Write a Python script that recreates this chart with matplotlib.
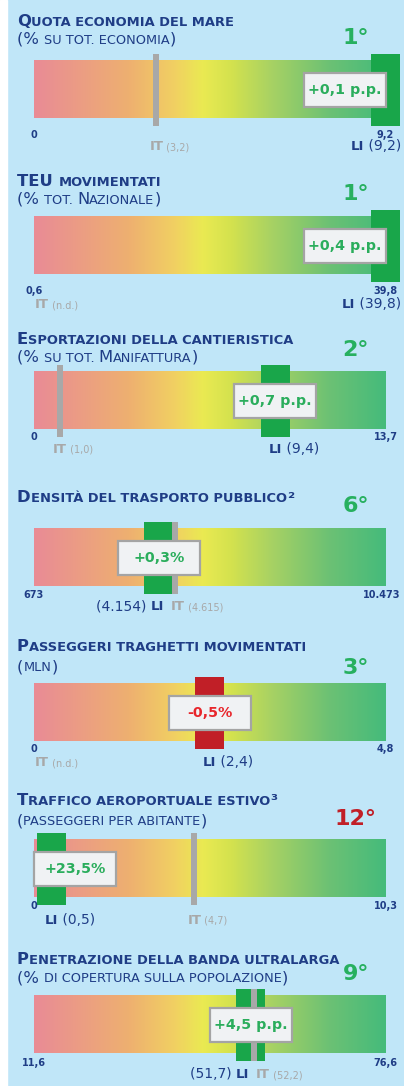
import numpy as np
import matplotlib
matplotlib.use('Agg')
import matplotlib.pyplot as plt
from matplotlib.colors import LinearSegmentedColormap
from matplotlib.patches import Rectangle
from matplotlib.font_manager import FontProperties

plt.rcParams['font.family'] = 'DejaVu Sans'

# ---- data ----
titles = ['Quota economia del mare', 'TEU movimentati', 'Esportazioni della cantieristica',
          'Densità del trasporto pubblico²', 'Passeggeri traghetti movimentati',
          'Traffico aeroportuale estivo³', 'Penetrazione della banda ultralarga']
subtitles = ['(% su tot. economia)', '(% tot. Nazionale)', '(% su tot. Manifattura)', '',
             '(mln)', '(passeggeri per abitante)', '(% di copertura sulla popolazione)']
ranks = ['1°', '1°', '2°', '6°', '3°', '12°', '9°']
rank_bad = [False, False, False, False, False, True, False]
scale_min = [0, 0.6, 0, 673, 0, 0, 11.6]
scale_max = [9.2, 39.8, 13.7, 10473, 4.8, 10.3, 76.6]
min_labels = ['0', '0,6', '0', '673', '0', '0', '11,6']
max_labels = ['9,2', '39,8', '13,7', '10.473', '4,8', '10,3', '76,6']
li_values = [9.2, 39.8, 9.4, 4154, 2.4, 0.5, 51.7]
li_labels = ['9,2', '39,8', '9,4', '4.154', '2,4', '0,5', '51,7']
it_values = [3.2, np.nan, 1.0, 4615, np.nan, 4.7, 52.2]
it_labels = ['3,2', 'n.d.', '1,0', '4.615', 'n.d.', '4,7', '52,2']
changes = ['+0,1 p.p.', '+0,4 p.p.', '+0,7 p.p.', '+0,3%', '-0,5%', '+23,5%', '+4,5 p.p.']

# ---- layout (pixels) ----
W, H = 404, 1086
BAR_L, BAR_R = 34, 385.5
BAR_H = 57.5
bar_top = [61, 217, 372, 529, 684, 840, 996]
title_y = [25.5, 185.5, 343.5, 502.5, 651, 805, 964]
sub_y = [44, 203.5, 362, None, 671, 825, 982.5]
rank_y = [44, 200.5, 356.5, 512.5, 673.5, 825, 980]
scale_y = [137.5, 293.5, 440.5, 597.5, 752.5, 909, 1066]
label_y = [150, 308, 453, 610, 766, 923.5, 1078.5]
li_before_it = [False, False, False, True, False, False, True]

navy = '#1f3d86'
gray = '#a8a8a8'
green_mk = '#19a64a'
red_mk = '#c11f27'
bg = '#c0e6f8'

cmap = LinearSegmentedColormap.from_list('score', [
    (0.0, '#e98b96'), (0.27, '#eeb070'), (0.40, '#f1d062'), (0.48, '#eaea52'),
    (0.56, '#d4e24e'), (0.68, '#a6d164'), (0.84, '#6cc174'), (1.0, '#45bb7b')])

fig = plt.figure(figsize=(W / 100, H / 100), dpi=100, facecolor=bg)
fig.patches.append(Rectangle((0, 0), 7 / W, 1, transform=fig.transFigure,
                             color='white', zorder=0))
renderer = fig.canvas.get_renderer()


def text_w(s, size, weight):
    fp = FontProperties(family='DejaVu Sans', size=size, weight=weight)
    w1 = renderer.get_text_width_height_descent('|' + s + '|', fp, ismath=False)[0]
    w0 = renderer.get_text_width_height_descent('||', fp, ismath=False)[0]
    return w1 - w0


def caps_runs(s, big, small, weight, color):
    runs = []
    for ch in s:
        if ch.islower():
            kind, ch = 'small', ch.upper()
        elif ch in ' .' and runs:
            kind = runs[-1][0]
        else:
            kind = 'big'
        if runs and runs[-1][0] == kind:
            runs[-1][1] += ch
        else:
            runs.append([kind, ch])
    return [(t, big if k == 'big' else small, weight, color) for k, t in runs]


def draw_runs(ax, px2x, px, y, runs, ha='left', lo=None, hi=None):
    widths = [text_w(s, sz, wt) for s, sz, wt, c in runs]
    total = sum(widths)
    start = px - {'left': 0, 'center': total / 2, 'right': total}[ha]
    if lo is not None:
        start = max(start, lo)
    if hi is not None:
        start = min(start, hi - total)
    for (s, sz, wt, c), w in zip(runs, widths):
        ax.text(px2x(start), y, s, fontsize=sz, fontweight=wt, color=c,
                ha='left', va='baseline')
        start += w
    return widths


for i in range(len(titles)):
    lo, hi = scale_min[i], scale_max[i]
    s = (hi - lo) / (BAR_R - BAR_L)          # data units per pixel
    x0 = lo - BAR_L * s
    ax = fig.add_axes([0, 0, 1, 1])
    ax.set_xlim(x0, x0 + W * s)
    ax.set_ylim(H, 0)
    ax.axis('off')
    ax.patch.set_alpha(0)

    def px2x(p):
        return x0 + p * s

    def x2px(v):
        return (v - x0) / s

    top = bar_top[i]
    bot = top + BAR_H
    mid = (top + bot) / 2

    # gradient bar
    ax.imshow(np.linspace(0, 1, 256)[None, :], cmap=cmap, aspect='auto',
              extent=(lo, hi, bot, top), interpolation='bilinear', zorder=1)

    change = changes[i]
    neg = change.startswith('-')
    # LI marker
    ax.bar(li_values[i], BAR_H + 14.5, width=29 * s, bottom=top - 7,
           color=red_mk if neg else green_mk, zorder=2)
    # IT marker
    if not np.isnan(it_values[i]):
        ax.bar(it_values[i], BAR_H + 14.5, width=6 * s, bottom=top - 7,
               color=gray, zorder=3)

    # change box
    cpx = x2px(li_values[i])
    left = min(max(cpx - 41, BAR_L), BAR_R - 82)
    ax.add_patch(Rectangle((px2x(left), mid - 17), 82 * s, 34, facecolor='#f0f2f4',
                           edgecolor='#a4a4a4', lw=1.6, zorder=4))
    ax.text(px2x(left + 41), mid + 0.5, change, ha='center', va='center',
            fontsize=10.3, fontweight='bold', color='#e8262c' if neg else '#2aad5c',
            zorder=5)

    # titles
    draw_runs(ax, px2x, 17, title_y[i], caps_runs(titles[i], 11.8, 9.4, 'bold', navy))
    if subtitles[i]:
        draw_runs(ax, px2x, 17, sub_y[i], caps_runs(subtitles[i], 11.8, 9.3, 'normal', navy))

    # rank
    ax.text(px2x(356), rank_y[i], ranks[i], ha='center', va='baseline', fontsize=16,
            fontweight='bold', color=red_mk if rank_bad[i] else '#27b05f')

    # scale ends
    ax.text(lo, scale_y[i], min_labels[i], ha='center', va='baseline', fontsize=7,
            fontweight='bold', color=navy)
    wmax = text_w(max_labels[i], 7, 'bold')
    ax.text(px2x(min(BAR_R + wmax / 2, 400) - wmax / 2), scale_y[i], max_labels[i],
            ha='center', va='baseline', fontsize=7, fontweight='bold', color=navy)

    # IT / LI labels
    li_px = x2px(li_values[i])
    it_nd = np.isnan(it_values[i])
    ly = label_y[i]
    if li_before_it[i]:
        m = (li_px + x2px(it_values[i])) / 2
        draw_runs(ax, px2x, m - 3, ly, [('(' + li_labels[i] + ') ', 10, 'normal', navy),
                                        ('LI', 9.5, 'bold', navy)], ha='right')
        draw_runs(ax, px2x, m + 4, ly, [('IT', 9.5, 'bold', gray),
                                        (' (' + it_labels[i] + ')', 7, 'normal', gray)])
    else:
        wli = text_w('LI', 9.5, 'bold')
        draw_runs(ax, px2x, li_px - wli / 2, ly,
                  [('LI', 9.5, 'bold', navy), (' (' + li_labels[i] + ')', 10, 'normal', navy)],
                  lo=37, hi=401)
        it_runs = [('IT', 9.5, 'bold', gray), (' (' + it_labels[i] + ')', 7, 'normal', gray)]
        if it_nd:
            draw_runs(ax, px2x, 35, ly, it_runs)
        else:
            wit = text_w('IT', 9.5, 'bold')
            draw_runs(ax, px2x, x2px(it_values[i]) - wit / 2, ly, it_runs)

fig.savefig('out.png', dpi=100, facecolor=fig.get_facecolor())
